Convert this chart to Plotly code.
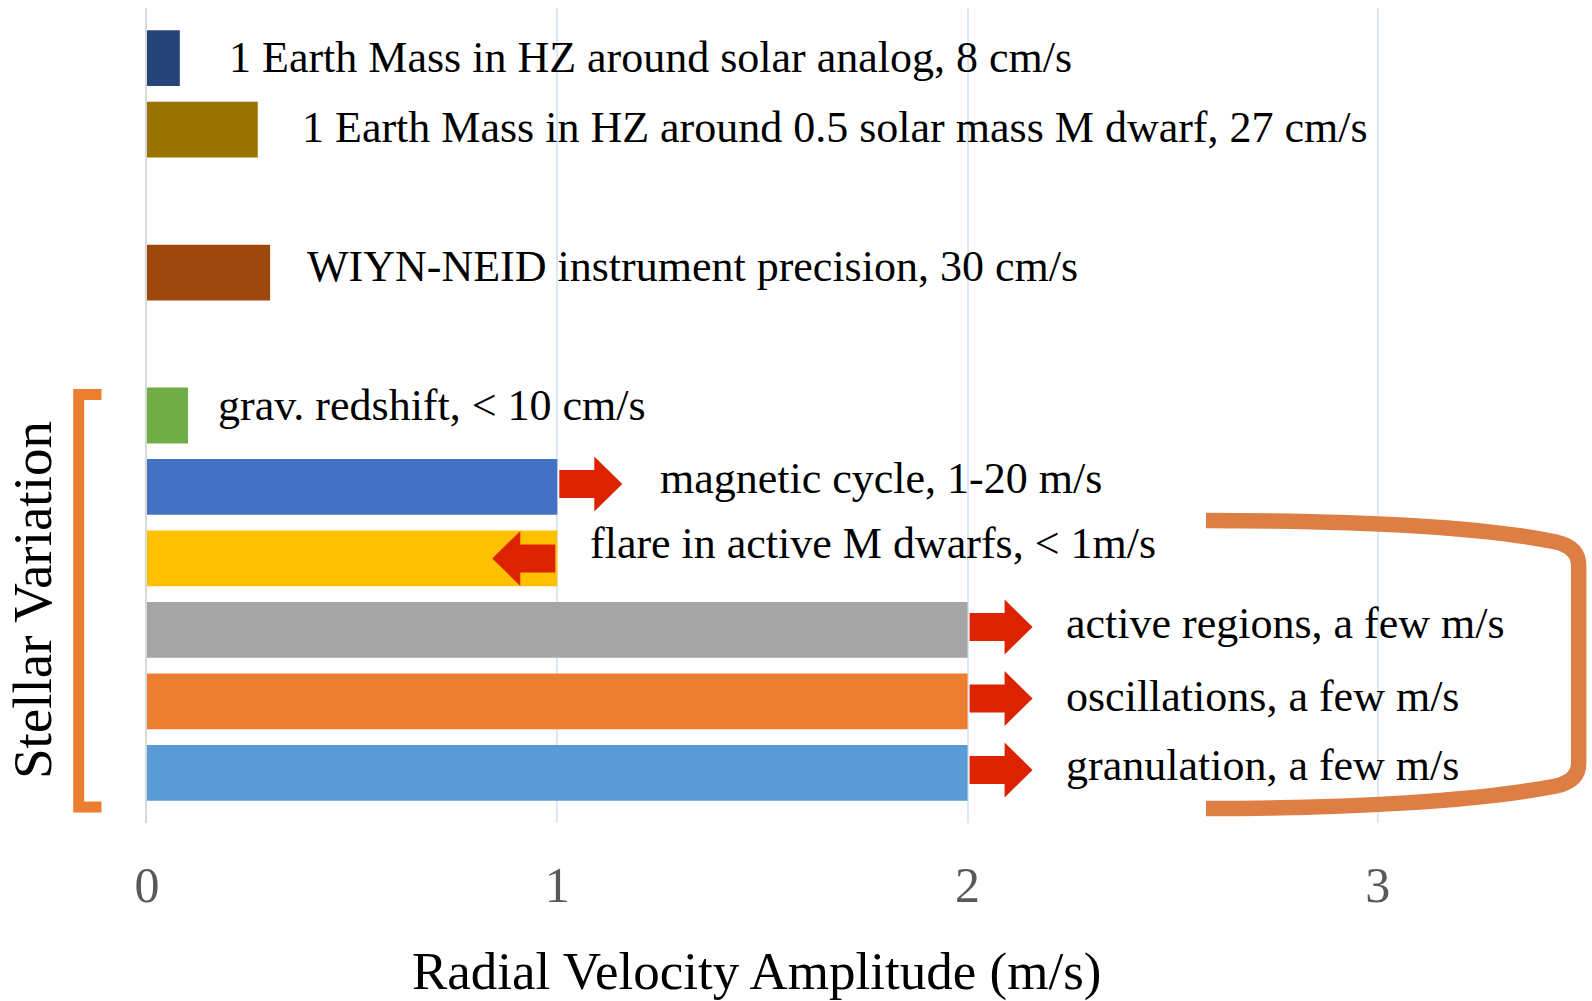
import plotly.graph_objects as go

# ---------------- data ----------------
categories = [
    "1 Earth Mass in HZ around solar analog, 8 cm/s",
    "1 Earth Mass in HZ around 0.5 solar mass M dwarf, 27 cm/s",
    " ",
    "WIYN-NEID instrument precision, 30 cm/s",
    "  ",
    "grav. redshift, < 10 cm/s",
    "magnetic cycle, 1-20 m/s",
    "flare in active M dwarfs, < 1m/s",
    "active regions, a few m/s",
    "oscillations, a few m/s",
    "granulation, a few m/s",
]
amplitude = [0.08, 0.27, None, 0.30, None, 0.10, 1, 1, 2, 2, 2]   # m/s
arrow_dir = [None, None, None, None, None, None, "right", "left", "right", "right", "right"]
x_ticks = [0, 1, 2, 3]
x_title = "Radial Velocity Amplitude (m/s)"
group_title = "Stellar Variation"

# ---------------- styles / layout ----------------
bar_colors = ["#264478", "#997300", "rgba(0,0,0,0)", "#9E480E", "rgba(0,0,0,0)",
              "#70AD47", "#4472C4", "#FFC000", "#A5A5A5", "#ED7D31", "#5B9BD5"]
label_x = [0.195, 0.374, None, 0.385, None, 0.168, 1.245, 1.076, 2.236, 2.236, 2.236]
label_yshift = [1, 2.5, None, 6, None, 10, 8, 15, 6, 5, 7]
FONT = "Liberation Serif, Times New Roman, serif"
ARROW = "#DD2200"

W, H = 1592, 1001
ML, MR, MT, MB = 147, 9, 8, 178
PW, PH = W - ML - MR, H - MT - MB


def P(px, py):
    return f"{(px - ML) / PW:.5f},{1 - (py - MT) / PH:.5f}"


fig = go.Figure()
fig.add_trace(go.Bar(
    x=amplitude, y=categories, orientation="h",
    marker=dict(color=bar_colors, line=dict(width=0)),
    hoverinfo="skip", showlegend=False,
))

annotations = []
for cat, lx, ys in zip(categories, label_x, label_yshift):
    if lx is None:
        continue
    annotations.append(dict(
        x=lx, y=cat, xref="x", yref="y", text=cat, showarrow=False,
        xanchor="left", yanchor="middle", yshift=ys,
        font=dict(family=FONT, size=44, color="#000000"),
    ))

annotations.append(dict(
    x=(756 - ML) / PW, y=1 - (971 - MT) / PH, xref="paper", yref="paper",
    text=x_title, showarrow=False, xanchor="center", yanchor="middle",
    font=dict(family=FONT, size=53, color="#000000"),
))
annotations.append(dict(
    x=(32 - ML) / PW, y=1 - (600 - MT) / PH, xref="paper", yref="paper",
    text=group_title, showarrow=False, xanchor="center", yanchor="middle",
    textangle=-90, font=dict(family=FONT, size=55, color="#000000"),
))

shapes = []
for cat, val, d in zip(categories, amplitude, arrow_dir):
    if d is None:
        continue
    if d == "right":
        c = 3
        path = (f"M 2,{c-14} L 37,{c-14} L 37,{c-27.5} L 65,{c} "
                f"L 37,{c+27.5} L 37,{c+14} L 2,{c+14} Z")
    else:
        c = 0
        path = (f"M -2,{c-14} L -37,{c-14} L -37,{c-27.5} L -65,{c} "
                f"L -37,{c+27.5} L -37,{c+14} L -2,{c+14} Z")
    shapes.append(dict(
        type="path", xref="x", yref="y", xsizemode="pixel", ysizemode="pixel",
        xanchor=val, yanchor=cat, path=path,
        fillcolor=ARROW, line=dict(width=0), layer="above",
    ))

# left bracket "["
shapes.append(dict(
    type="path", xref="paper", yref="paper",
    path=f"M {P(101.5, 394.5)} L {P(78.7, 394.5)} L {P(78.7, 807)} L {P(101.5, 807)}",
    line=dict(color="#ED7D31", width=11), layer="above",
))
# right bracket
shapes.append(dict(
    type="path", xref="paper", yref="paper",
    path=(f"M {P(1206, 520.5)} C {P(1350, 520.5)} {P(1480, 526)} {P(1556, 542)} "
          f"Q {P(1578.7, 547)} {P(1578.7, 566)} L {P(1578.7, 763)} "
          f"Q {P(1578.7, 781)} {P(1556, 786)} "
          f"C {P(1480, 801)} {P(1350, 808.5)} {P(1206, 808.5)}"),
    line=dict(color="#DD7F45", width=15.5), layer="above",
))

fig.update_layout(
    width=W, height=H,
    margin=dict(l=ML, r=MR, t=MT, b=MB, pad=0),
    paper_bgcolor="white", plot_bgcolor="white",
    bargap=0.22,
    annotations=annotations, shapes=shapes,
    xaxis=dict(
        range=[0, PW / 410.29], tickvals=x_ticks, ticktext=[str(v) for v in x_ticks],
        showgrid=True, gridcolor="#DCE8F5", gridwidth=1.5, zeroline=False,
        showline=False, ticks="", ticklabelstandoff=28,
        tickfont=dict(family=FONT, size=50, color="#595959"),
    ),
    yaxis=dict(
        type="category", categoryorder="array", categoryarray=categories,
        range=[10.7, -0.7], showticklabels=False, showgrid=False, zeroline=False,
        showline=True, linecolor="#D9D9D9", linewidth=1.5, ticks="",
    ),
)

fig.write_html("out.html")
